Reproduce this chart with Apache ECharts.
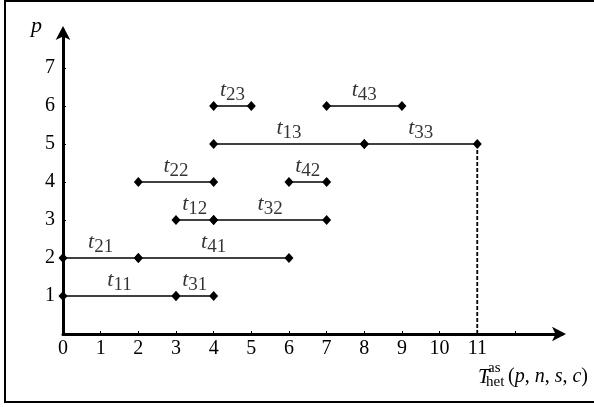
<!DOCTYPE html>
<html>
<head>
<meta charset="utf-8">
<script src="https://cdn.jsdelivr.net/npm/echarts@6/dist/echarts.min.js"></script>
<style>html,body{margin:0;padding:0;background:#fff}#c{width:594px;height:407px}</style>
</head>
<body>
<div id="c"></div>
<script>
// Segment data
const segStart = [0, 3, 0, 2, 3, 4, 2, 6, 4, 8, 4, 7];
const segEnd   = [3, 4, 2, 6, 4, 7, 4, 7, 8, 11, 5, 9];
const segLevel = [1, 1, 2, 2, 3, 3, 4, 4, 5, 5, 6, 6];
const segLabel = ['11', '31', '21', '41', '12', '32', '22', '42', '13', '33', '23', '43'];
const xTickLabels = [0, 1, 2, 3, 4, 5, 6, 7, 8, 9, 10, 11];
const xTickMarks = [0, 1, 2, 3, 4, 5, 6, 7, 8, 9, 10, 11, 12];
const yTickLabels = [1, 2, 3, 4, 5, 6, 7];
const dropX = 11;
const dropTop = 5;
const xMax = 13.25;
const yMax = 8;

const FONT = 'Liberation Serif';
const chart = echarts.init(document.getElementById('c'));

const series = [];
segStart.forEach((s, i) => {
  series.push({
    type: 'line',
    data: [[s, segLevel[i]], [segEnd[i], segLevel[i]]],
    symbol: 'diamond',
    symbolSize: [9, 10],
    lineStyle: { color: '#000', width: 1.5 },
    itemStyle: { color: '#000' },
    animation: false,
    z: 3
  });
});
series.push({
  type: 'line',
  data: [[dropX, dropTop], [dropX, 0]],
  symbol: 'none',
  lineStyle: { color: '#000', width: 1.8, type: [4, 2] },
  animation: false,
  z: 2
});
series.push({
  type: 'scatter',
  symbolSize: 0,
  data: segStart.map((s, i) => ({ value: [(s + segEnd[i]) / 2, segLevel[i]], name: segLabel[i] })),
  label: {
    show: true,
    position: 'inside',
    offset: [0, -14],
    formatter: p => '{t|t}{s|' + p.name + '}',
    rich: {
      t: { fontFamily: FONT, fontStyle: 'italic', fontSize: 22, lineHeight: 26, verticalAlign: 'top', color: '#000' },
      s: { fontFamily: FONT, fontSize: 19, lineHeight: 16, verticalAlign: 'bottom', color: '#000' }
    }
  },
  animation: false,
  z: 4
});

chart.setOption({
  backgroundColor: '#fff',
  animation: false,
  grid: { left: 63, top: 30, right: 32, bottom: 73 },
  xAxis: {
    type: 'value', min: 0, max: xMax, interval: 1,
    splitLine: { show: false },
    axisLine: { lineStyle: { color: '#000', width: 3 }, symbol: ['none', 'arrow'], symbolSize: [11, 14], symbolOffset: [0, 4] },
    axisTick: { show: true, inside: true, length: 3, lineStyle: { color: '#000', width: 1 }, customValues: xTickMarks },
    axisLabel: { color: '#000', fontFamily: FONT, fontSize: 20, margin: 5, customValues: xTickLabels, showMinLabel: true, showMaxLabel: true, hideOverlap: false }
  },
  yAxis: {
    type: 'value', min: 0, max: yMax, interval: 1,
    splitLine: { show: false },
    axisLine: { lineStyle: { color: '#000', width: 3 }, symbol: ['none', 'arrow'], symbolSize: [11, 14], symbolOffset: [0, 4] },
    axisTick: { show: true, inside: true, length: 3, lineStyle: { color: '#000', width: 1 }, customValues: yTickLabels },
    axisLabel: { color: '#000', fontFamily: FONT, fontSize: 20, margin: 8, customValues: yTickLabels }
  },
  graphic: [
    { type: 'rect', shape: { x: 5, y: 1, width: 595, height: 401 }, style: { fill: 'none', stroke: '#000', lineWidth: 2 }, silent: true },
    { type: 'text', left: 31, top: 15, style: { text: 'p', font: 'italic 22px "Liberation Serif"', fill: '#000' } },
    { type: 'text', left: 478, top: 367, style: { text: 'T', font: 'italic 21px "Liberation Serif"', fill: '#000' } },
    { type: 'text', left: 488, top: 361, style: { text: 'as', font: '15px "Liberation Serif"', fill: '#000' } },
    { type: 'text', left: 486, top: 375, style: { text: 'het', font: '15px "Liberation Serif"', fill: '#000' } },
    { type: 'text', left: 508, top: 367, style: {
      text: '{n|(}{i|p}{n|, }{i|n}{n|, }{i|s}{n|, }{i|c}{n|)}',
      rich: {
        n: { fontFamily: FONT, fontSize: 20, fill: '#000' },
        i: { fontFamily: FONT, fontStyle: 'italic', fontSize: 20, fill: '#000' }
      }
    } }
  ],
  series: series
});
</script>
</body>
</html>
